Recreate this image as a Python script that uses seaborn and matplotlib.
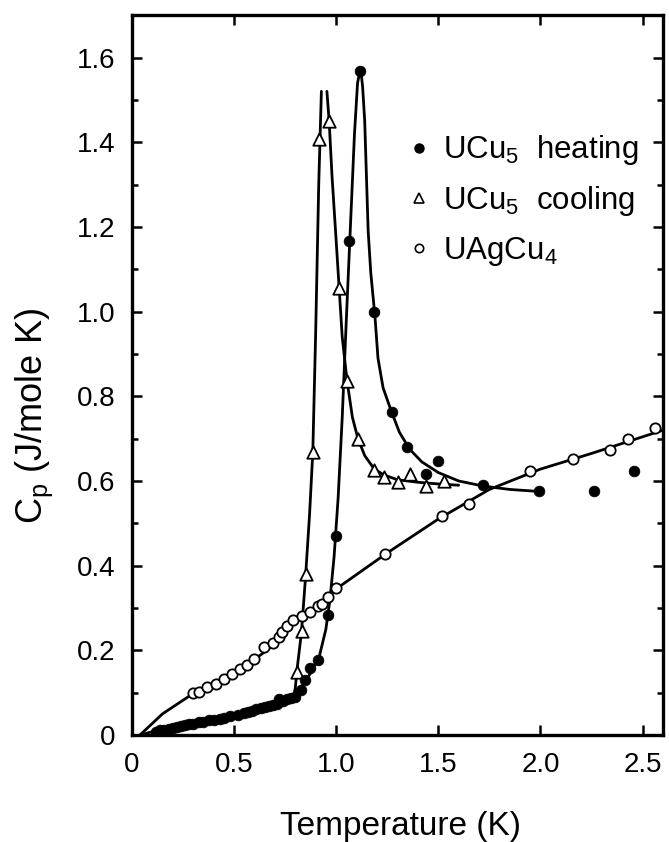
import matplotlib
matplotlib.use("Agg")
import matplotlib.pyplot as plt
import seaborn as sns
from matplotlib.lines import Line2D
from matplotlib.ticker import FixedLocator, MultipleLocator

# UCu5 heating (filled circles)
heat_T = [0.12, 0.14, 0.16, 0.18, 0.20, 0.22, 0.24, 0.26, 0.28, 0.30, 0.33, 0.35,
          0.38, 0.40, 0.43, 0.45, 0.48, 0.52, 0.55, 0.57, 0.59, 0.61, 0.63, 0.65,
          0.67, 0.69, 0.71, 0.72, 0.74, 0.76, 0.78, 0.80, 0.83, 0.85, 0.87, 0.91,
          0.96, 1.00, 1.065, 1.118, 1.187, 1.272, 1.348, 1.44, 1.50, 1.72, 1.995,
          2.262, 2.46]
heat_Cp = [0.008, 0.011, 0.013, 0.015, 0.017, 0.019, 0.021, 0.023, 0.025, 0.027,
           0.031, 0.032, 0.035, 0.036, 0.038, 0.040, 0.044, 0.048, 0.053, 0.055,
           0.058, 0.061, 0.064, 0.066, 0.069, 0.071, 0.074, 0.085, 0.080, 0.085,
           0.087, 0.090, 0.106, 0.130, 0.158, 0.178, 0.283, 0.470, 1.166, 1.568,
           0.998, 0.763, 0.680, 0.616, 0.648, 0.590, 0.577, 0.577, 0.624]

# UCu5 cooling (open triangles)
cool_T = [0.807, 0.834, 0.851, 0.886, 0.918, 0.966, 1.015, 1.054, 1.107, 1.184,
          1.233, 1.302, 1.36, 1.44, 1.527]
cool_Cp = [0.150, 0.245, 0.380, 0.668, 1.407, 1.450, 1.055, 0.835, 0.700, 0.625,
           0.610, 0.598, 0.616, 0.588, 0.600]

# UAgCu4 (open circles)
ag_T = [0.30, 0.33, 0.37, 0.41, 0.45, 0.49, 0.53, 0.565, 0.60, 0.645, 0.69, 0.72,
        0.735, 0.76, 0.79, 0.835, 0.87, 0.91, 0.93, 0.96, 1.0, 1.24, 1.52, 1.65,
        1.95, 2.16, 2.34, 2.43, 2.56]
ag_Cp = [0.100, 0.102, 0.113, 0.120, 0.132, 0.145, 0.157, 0.166, 0.180, 0.207,
         0.217, 0.232, 0.243, 0.258, 0.272, 0.280, 0.290, 0.305, 0.310, 0.327,
         0.348, 0.428, 0.518, 0.545, 0.624, 0.652, 0.672, 0.700, 0.725]

# hand-drawn guide curves
heat_fit_T = [0.04, 0.10, 0.20, 0.30, 0.40, 0.50, 0.60, 0.70, 0.78, 0.84, 0.88,
              0.92, 0.95, 0.97, 0.99, 1.01, 1.03, 1.05, 1.07, 1.09, 1.105, 1.12,
              1.13, 1.14, 1.157, 1.17, 1.19, 1.205, 1.23, 1.27, 1.31, 1.36, 1.42,
              1.50, 1.60, 1.72, 1.85, 2.00]
heat_fit_Cp = [0.0, 0.008, 0.018, 0.027, 0.036, 0.046, 0.060, 0.074, 0.088, 0.12,
               0.15, 0.19, 0.25, 0.32, 0.42, 0.56, 0.75, 0.98, 1.20, 1.42, 1.54,
               1.575, 1.53, 1.45, 1.19, 1.09, 0.99, 0.89, 0.82, 0.765, 0.715,
               0.675, 0.645, 0.62, 0.60, 0.588, 0.58, 0.575]

cool_up_T = [0.79, 0.80, 0.81, 0.83, 0.85, 0.87, 0.886, 0.90, 0.915, 0.928]
cool_up_Cp = [0.088, 0.11, 0.16, 0.24, 0.37, 0.52, 0.668, 0.95, 1.30, 1.52]
cool_down_T = [0.955, 0.966, 0.98, 1.0, 1.015, 1.03, 1.054, 1.08, 1.107, 1.14,
               1.184, 1.23, 1.30, 1.40, 1.50, 1.60]
cool_down_Cp = [1.52, 1.45, 1.32, 1.17, 1.055, 0.94, 0.835, 0.75, 0.70, 0.66,
                0.63, 0.615, 0.603, 0.597, 0.593, 0.59]

ag_fit_T = [0.04, 0.15, 0.30, 0.45, 0.60, 0.70, 0.78, 0.85, 0.92, 1.00, 1.25,
            1.50, 1.75, 2.00, 2.25, 2.60]
ag_fit_Cp = [0.0, 0.05, 0.098, 0.135, 0.178, 0.215, 0.262, 0.282, 0.305, 0.345,
             0.43, 0.51, 0.58, 0.628, 0.665, 0.72]

x_ticks = [0, 0.5, 1.0, 1.5, 2.0, 2.5]
x_tick_labels = ["0", "0.5", "1.0", "1.5", "2.0", "2.5"]
y_ticks = [0, 0.2, 0.4, 0.6, 0.8, 1.0, 1.2, 1.4, 1.6]
y_tick_labels = ["0", "0.2", "0.4", "0.6", "0.8", "1.0", "1.2", "1.4", "1.6"]
legend_labels = [r"UCu$_\mathregular{5}$  heating", r"UCu$_\mathregular{5}$  cooling",
                 r"UAgCu$_\mathregular{4}$"]

sns.set_theme(style="ticks")
plt.rcParams['font.family'] = ['Liberation Sans', 'DejaVu Sans']
plt.rcParams['mathtext.fontset'] = 'custom'
plt.rcParams['mathtext.rm'] = 'Liberation Sans'
plt.rcParams['mathtext.it'] = 'Liberation Sans:italic'
for key in ['text.color', 'axes.labelcolor', 'xtick.color', 'ytick.color',
            'axes.edgecolor']:
    plt.rcParams[key] = 'black'

fig = plt.figure(figsize=(6.69, 8.42), dpi=100)
ax = fig.add_axes([0.197, 0.127, 0.794, 0.855])

line_kw = dict(color='black', linewidth=2.0, estimator=None, sort=False, ax=ax)
sns.lineplot(x=heat_fit_T, y=heat_fit_Cp, **line_kw)
sns.lineplot(x=cool_up_T, y=cool_up_Cp, **line_kw)
sns.lineplot(x=cool_down_T, y=cool_down_Cp, **line_kw)
sns.lineplot(x=ag_fit_T, y=ag_fit_Cp, **line_kw)

sns.scatterplot(x=ag_T, y=ag_Cp, marker='o', s=55, facecolor='white',
                edgecolor='black', linewidth=1.3, ax=ax, zorder=3)
sns.scatterplot(x=cool_T, y=cool_Cp, marker='^', s=80, facecolor='white',
                edgecolor='black', linewidth=1.3, ax=ax, zorder=3)
sns.scatterplot(x=heat_T, y=heat_Cp, marker='o', s=60, color='black',
                edgecolor='black', linewidth=0.5, ax=ax, zorder=4)

ax.set_xlim(0, 2.6)
ax.set_ylim(0, 1.70)
ax.xaxis.set_major_locator(FixedLocator(x_ticks))
ax.set_xticklabels(x_tick_labels)
ax.yaxis.set_major_locator(FixedLocator(y_ticks))
ax.set_yticklabels(y_tick_labels)
ax.yaxis.set_minor_locator(MultipleLocator(0.1))

ax.tick_params(which='both', direction='in', top=True, right=True, colors='black',
               width=1.8)
ax.tick_params(which='major', length=7, labelsize=20, pad=12)
ax.tick_params(which='minor', length=4)
for sp in ax.spines.values():
    sp.set_linewidth(2.4)
    sp.set_color('black')

ax.set_xlabel("Temperature (K)", fontsize=24)
ax.set_ylabel(r"C$_\mathregular{p}$ (J/mole K)", fontsize=26)
ax.xaxis.set_label_coords(0.505, -0.105)
ax.xaxis.label.set_va('top')
ax.yaxis.set_label_coords(-0.145, 0.443)

handles = [
    Line2D([], [], linestyle='none', marker='o', markersize=6.5, color='black'),
    Line2D([], [], linestyle='none', marker='^', markersize=7, markerfacecolor='white',
           markeredgecolor='black', markeredgewidth=1.2),
    Line2D([], [], linestyle='none', marker='o', markersize=6, markerfacecolor='white',
           markeredgecolor='black', markeredgewidth=1.2),
]
ax.legend(handles, legend_labels, loc='upper left', bbox_to_anchor=(0.494, 0.853),
          frameon=False, fontsize=22.5, handlelength=0.8, handletextpad=0.35,
          labelspacing=0.54, borderaxespad=0)

fig.savefig("out.png", dpi=100, facecolor='white')
